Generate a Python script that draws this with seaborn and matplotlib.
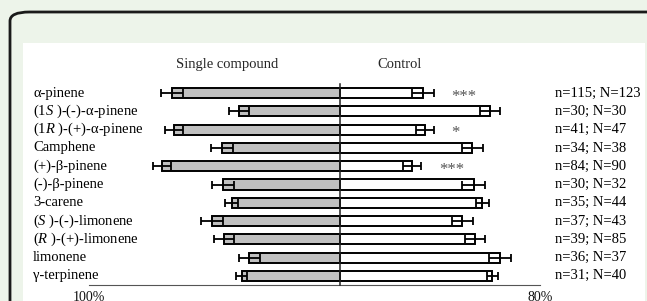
import numpy as np
import pandas as pd
import seaborn as sns
import matplotlib.pyplot as plt
from matplotlib.patches import FancyBboxPatch, Rectangle

# Data (percent choosing single compound vs control)
compounds = ["α-pinene", "(1$\\mathit{S}$ )-(-)-α-pinene", "(1$\\mathit{R}$ )-(+)-α-pinene",
             "Camphene", "(+)-β-pinene", "(-)-β-pinene", "3-carene",
             "($\\mathit{S}$ )-(-)-limonene", "($\\mathit{R}$ )-(+)-limonene",
             "limonene", "γ-terpinene"]
single = [66.8, 40.0, 66.0, 47.0, 71.0, 46.5, 43.0, 51.0, 46.0, 36.0, 39.0]
control = [33.2, 60.0, 34.0, 53.0, 29.0, 53.5, 57.0, 49.0, 54.0, 64.0, 61.0]
sem = [4.3, 4.0, 3.6, 4.3, 3.6, 4.5, 2.6, 4.3, 4.0, 4.3, 2.2]
signif = ["***", "", "*", "", "***", "", "", "", "", "", ""]
counts = ["n=115; N=123", "n=30; N=30", "n=41; N=47", "n=34; N=38", "n=84; N=90",
          "n=30; N=32", "n=35; N=44", "n=37; N=43", "n=39; N=85", "n=36; N=37",
          "n=31; N=40"]

df = pd.DataFrame({"compound": compounds, "single": -np.array(single),
                   "control": control, "sem": sem})

sns.set_style("white")
plt.rcParams["font.family"] = ["Liberation Serif", "DejaVu Serif"]
plt.rcParams["mathtext.fontset"] = "custom"
plt.rcParams["mathtext.rm"] = "Liberation Serif"
plt.rcParams["mathtext.it"] = "Liberation Serif:italic"

W, H = 647, 301
fig = plt.figure(figsize=(W / 100, H / 100), dpi=100)
fig.patch.set_facecolor("#edf4ea")

# frame of the screenshot
fig.patches.append(FancyBboxPatch((10 / W, -0.2), 1.2, (H - 12) / H + 0.2,
                                  boxstyle="round,pad=0,rounding_size=0.03",
                                  transform=fig.transFigure, facecolor="#edf4ea",
                                  edgecolor="#1a1a1a", lw=2.0, zorder=-3))
fig.patches.append(Rectangle((23 / W, 0), (645 - 23) / W, (H - 43) / H,
                             transform=fig.transFigure, facecolor="white",
                             edgecolor="none", zorder=-2))

ax = fig.add_axes([89 / W, (H - 285) / H, (540 - 89) / W, (285 - 84) / H])
ax.set_facecolor("none")

sns.barplot(data=df, x="single", y="compound", orient="h", color="#c0c0c0",
            edgecolor="black", linewidth=1.4, width=0.55, ax=ax, zorder=3)
sns.barplot(data=df, x="control", y="compound", orient="h", color="white",
            edgecolor="black", linewidth=1.4, width=0.55, ax=ax, zorder=3)
for b in ax.patches:
    b.set_facecolor(b.get_facecolor()[:3] + (1,))

pos = np.arange(len(compounds))
ax.errorbar(df["single"], pos, xerr=df["sem"], fmt="none", ecolor="black",
            elinewidth=1.3, capsize=3, capthick=1.3, zorder=4)
ax.errorbar(df["control"], pos, xerr=df["sem"], fmt="none", ecolor="black",
            elinewidth=1.3, capsize=3, capthick=1.3, zorder=4)

ax.set_xlim(-100, 80)
ax.set_ylim(len(compounds) - 0.5, -0.5)
ax.set(xlabel=None, ylabel=None)

# axes: centre spine + bottom spine
ax.spines["left"].set_position(("data", 0))
ax.spines["left"].set_color("#222222")
ax.spines["left"].set_linewidth(1.1)
ax.spines["left"].set_zorder(5)
ax.spines["bottom"].set_color("#555555")
ax.spines["right"].set_visible(False)
ax.spines["top"].set_visible(False)
ax.set_yticks(pos - 0.42)
ax.set_yticklabels([])
ax.tick_params(axis="y", direction="in", length=3, width=0.8, color="#777777")
ax.set_xticks(np.arange(-100, 81, 20))
ax.set_xticklabels(["100%" if v == -100 else "80%" if v == 80 else ""
                    for v in np.arange(-100, 81, 20)])
ax.tick_params(axis="x", direction="out", length=4, width=0.8, color="#555555",
               labelsize=10, pad=0, labelcolor="#111111")

tr = ax.get_yaxis_transform()
for i, name in enumerate(compounds):
    ax.text((33 - 89) / (540 - 89), i, name, transform=tr, ha="left", va="center",
            fontsize=10.5, color="black")
    ax.text((555 - 89) / (540 - 89), i, counts[i], transform=tr, ha="left",
            va="center", fontsize=10.5, color="black")
    if signif[i]:
        ax.text(df["control"][i] + df["sem"][i] + 7, i + 0.2, signif[i],
                ha="left", va="center", fontsize=12, color="#555555")

ax.text(-45, -1.55, "Single compound", ha="center", va="center", fontsize=10.5)
ax.text(24, -1.55, "Control", ha="center", va="center", fontsize=10.5)

fig.savefig("out.png", dpi=100, facecolor=fig.get_facecolor())
